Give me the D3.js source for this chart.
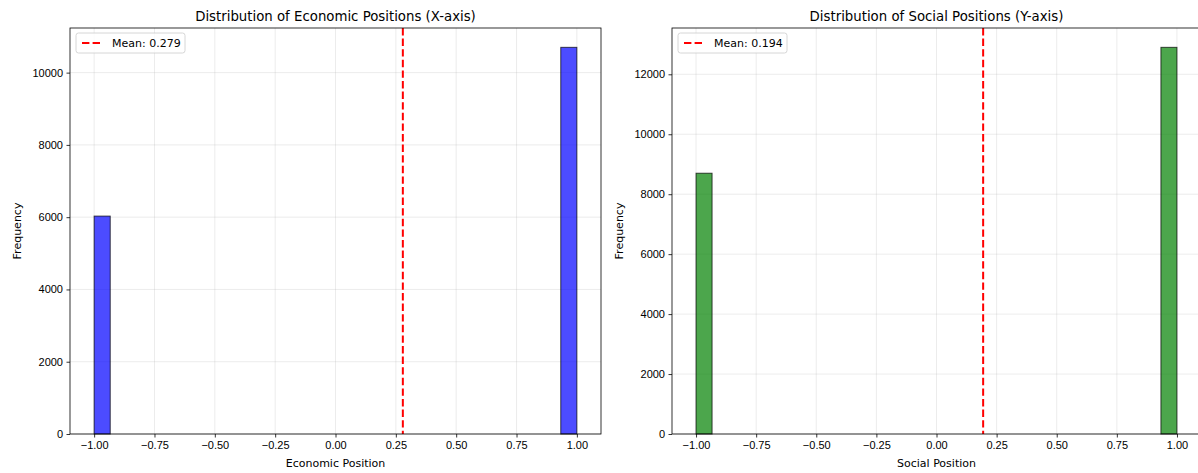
<!DOCTYPE html>
<html>
<head>
<meta charset="utf-8">
<script src="https://cdn.jsdelivr.net/npm/d3@7"></script>
<style>
  body { margin: 0; background: #fff; overflow: hidden; }
  svg { font-family: "DejaVu Sans", sans-serif; display: block; }
</style>
</head>
<body>
<div id="chart"></div>
<script>
// histogram counts, 30 bins between -1 and 1
const economicCounts = [6030, 0, 0, 0, 0, 0, 0, 0, 0, 0, 0, 0, 0, 0, 0,
                        0, 0, 0, 0, 0, 0, 0, 0, 0, 0, 0, 0, 0, 0, 10700];
const socialCounts = [8700, 0, 0, 0, 0, 0, 0, 0, 0, 0, 0, 0, 0, 0, 0,
                      0, 0, 0, 0, 0, 0, 0, 0, 0, 0, 0, 0, 0, 0, 12900];
const economicMean = 0.279;
const socialMean = 0.194;
const xTicks = [-1.00, -0.75, -0.50, -0.25, 0.00, 0.25, 0.50, 0.75, 1.00];
const economicYTicks = [0, 2000, 4000, 6000, 8000, 10000];
const socialYTicks = [0, 2000, 4000, 6000, 8000, 10000, 12000];

const width = 1198, height = 473;

const svg = d3.select("#chart").append("svg")
    .attr("width", width)
    .attr("height", height);

const fmtX = d => d3.format(".2f")(d).replace("-", "\u2212");

const drawPanel = (opts) => {
    const { left, right, top, bottom, counts, mean, yTicks, fill, title, xLabel } = opts;
    const n = counts.length;
    const bins = counts.map((c, i) => ({ x0: -1 + i * 2 / n, x1: -1 + (i + 1) * 2 / n, count: c }));

    const x = d3.scaleLinear().domain([-1.1, 1.1]).range([left, right]);
    const yMax = d3.max(counts) * 1.05;
    const y = d3.scaleLinear().domain([0, yMax]).range([bottom, top]);

    const g = svg.append("g");

    // grid
    g.append("g").selectAll("line.vgrid")
     .data(xTicks)
     .enter().append("line")
     .attr("x1", d => x(d)).attr("x2", d => x(d))
     .attr("y1", top).attr("y2", bottom)
     .attr("stroke", "#b0b0b0").attr("stroke-opacity", 0.3).attr("stroke-width", 0.8);

    g.append("g").selectAll("line.hgrid")
     .data(yTicks)
     .enter().append("line")
     .attr("x1", left).attr("x2", right)
     .attr("y1", d => y(d)).attr("y2", d => y(d))
     .attr("stroke", "#b0b0b0").attr("stroke-opacity", 0.3).attr("stroke-width", 0.8);

    // bars
    g.append("g").selectAll("rect")
     .data(bins.filter(b => b.count > 0))
     .enter().append("rect")
     .attr("x", d => x(d.x0))
     .attr("y", d => y(d.count))
     .attr("width", d => x(d.x1) - x(d.x0))
     .attr("height", d => y(0) - y(d.count))
     .attr("fill", fill)
     .attr("stroke", "rgba(0,0,0,0.7)")
     .attr("stroke-width", 1);

    // mean line
    g.append("line")
     .attr("x1", x(mean)).attr("x2", x(mean))
     .attr("y1", top).attr("y2", bottom)
     .attr("stroke", "red")
     .attr("stroke-width", 2)
     .attr("stroke-dasharray", "7.4,3.2");

    // axes
    const xAxis = g.append("g")
                   .attr("transform", `translate(0,${bottom})`)
                   .call(d3.axisBottom(x).tickValues(xTicks).tickFormat(fmtX).tickSize(3.5).tickPadding(3.5));
    const yAxis = g.append("g")
                   .attr("transform", `translate(${left},0)`)
                   .call(d3.axisLeft(y).tickValues(yTicks).tickFormat(d3.format("d")).tickSize(3.5).tickPadding(3.5));

    [xAxis, yAxis].forEach(a => {
        a.select(".domain").remove();
        a.selectAll("text").style("font-size", "11px").attr("fill", "#000");
        a.selectAll("line").attr("stroke", "#000").attr("stroke-width", 0.8);
    });

    // frame
    g.append("rect")
     .attr("x", left).attr("y", top)
     .attr("width", right - left).attr("height", bottom - top)
     .attr("fill", "none").attr("stroke", "#000").attr("stroke-width", 0.8);

    // title and labels
    g.append("text")
     .attr("x", (left + right) / 2).attr("y", top - 7)
     .attr("text-anchor", "middle")
     .style("font-size", "13.3px")
     .text(title);

    g.append("text")
     .attr("x", (left + right) / 2).attr("y", bottom + 33)
     .attr("text-anchor", "middle")
     .style("font-size", "11px")
     .text(xLabel);

    g.append("text")
     .attr("transform", `translate(${left - 49},${(top + bottom) / 2}) rotate(-90)`)
     .attr("text-anchor", "middle")
     .style("font-size", "11px")
     .text("Frequency");

    // legend
    const lg = g.append("g").attr("transform", `translate(${left + 6},${top + 5})`);
    lg.append("rect")
      .attr("width", 109).attr("height", 20).attr("rx", 2.5)
      .attr("fill", "#fff").attr("fill-opacity", 0.8)
      .attr("stroke", "#ccc").attr("stroke-width", 0.8);
    lg.append("line")
      .attr("x1", 6).attr("x2", 26).attr("y1", 10).attr("y2", 10)
      .attr("stroke", "red").attr("stroke-width", 2).attr("stroke-dasharray", "7.4,3.2");
    lg.append("text")
      .attr("x", 36).attr("y", 14)
      .style("font-size", "11px")
      .text(`Mean: ${mean.toFixed(3)}`);
};

drawPanel({
    left: 70, right: 601, top: 28, bottom: 434,
    counts: economicCounts, mean: economicMean, yTicks: economicYTicks,
    fill: "rgba(0,0,255,0.7)",
    title: "Distribution of Economic Positions (X-axis)",
    xLabel: "Economic Position"
});

drawPanel({
    left: 672, right: 1201, top: 28, bottom: 434,
    counts: socialCounts, mean: socialMean, yTicks: socialYTicks,
    fill: "rgba(0,128,0,0.7)",
    title: "Distribution of Social Positions (Y-axis)",
    xLabel: "Social Position"
});
</script>
</body>
</html>
